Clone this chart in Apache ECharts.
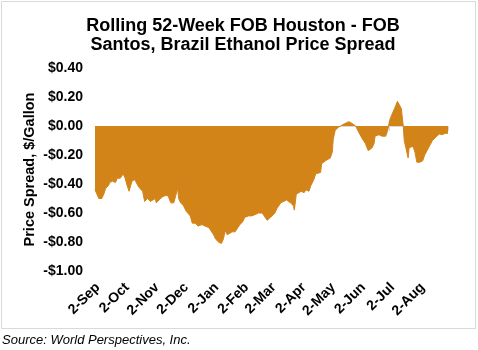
<!DOCTYPE html>
<html>
<head>
<meta charset="utf-8">
<script src="https://cdn.jsdelivr.net/npm/echarts@6/dist/echarts.min.js"></script>
<style>
html,body{margin:0;padding:0;background:#fff;}
#chart{width:478px;height:350px;}
</style>
</head>
<body>
<div id="chart"></div>
<script>
const titleText = 'Rolling 52-Week FOB Houston - FOB\nSantos, Brazil Ethanol Price Spread';
const yAxisName = 'Price Spread, $/Gallon';
const sourceText = 'Source: World Perspectives, Inc.';

const tickDates = ['2018-09-02','2018-10-02','2018-11-02','2018-12-02','2019-01-02','2019-02-02','2019-03-02','2019-04-02','2019-05-02','2019-06-02','2019-07-02','2019-08-02'];
const tickLabels = ['2-Sep','2-Oct','2-Nov','2-Dec','2-Jan','2-Feb','2-Mar','2-Apr','2-May','2-Jun','2-Jul','2-Aug'];
const xStart = '2018-09-02';
const xEnd = '2019-08-31';

const dates = [
 '2018-09-02','2018-09-04','2018-09-06','2018-09-09','2018-09-11','2018-09-13','2018-09-16','2018-09-17','2018-09-20','2018-09-23','2018-09-25','2018-09-28',
 '2018-10-01','2018-10-03','2018-10-05','2018-10-07','2018-10-10','2018-10-13','2018-10-16','2018-10-18','2018-10-21','2018-10-23','2018-10-26','2018-10-29','2018-10-31',
 '2018-11-03','2018-11-04','2018-11-07','2018-11-10','2018-11-13','2018-11-16','2018-11-19','2018-11-22','2018-11-24','2018-11-26','2018-11-27','2018-11-29',
 '2018-12-02','2018-12-05','2018-12-09','2018-12-11','2018-12-14','2018-12-17','2018-12-21','2018-12-24','2018-12-28','2018-12-30',
 '2019-01-02','2019-01-04','2019-01-07','2019-01-10','2019-01-12','2019-01-14','2019-01-16','2019-01-18','2019-01-21','2019-01-24','2019-01-27','2019-01-29',
 '2019-02-01','2019-02-03','2019-02-07','2019-02-10','2019-02-14','2019-02-17','2019-02-21','2019-02-23','2019-02-26','2019-02-28',
 '2019-03-03','2019-03-06','2019-03-08','2019-03-12','2019-03-15','2019-03-18','2019-03-22','2019-03-25','2019-03-26','2019-03-28','2019-03-30',
 '2019-04-02','2019-04-05','2019-04-07','2019-04-10','2019-04-12','2019-04-15','2019-04-17','2019-04-19','2019-04-22','2019-04-23','2019-04-27','2019-04-29',
 '2019-05-02','2019-05-04','2019-05-05','2019-05-07','2019-05-10','2019-05-12','2019-05-15','2019-05-17','2019-05-21','2019-05-23','2019-05-25','2019-05-28','2019-05-31',
 '2019-06-04','2019-06-07','2019-06-10','2019-06-12','2019-06-14','2019-06-16','2019-06-17','2019-06-21','2019-06-24','2019-06-28','2019-06-30',
 '2019-07-02','2019-07-05','2019-07-07','2019-07-10','2019-07-11','2019-07-14','2019-07-16','2019-07-17','2019-07-19','2019-07-21','2019-07-22','2019-07-26','2019-07-28','2019-07-30',
 '2019-08-02','2019-08-05','2019-08-07','2019-08-11','2019-08-15','2019-08-18','2019-08-22','2019-08-25','2019-08-28','2019-08-31'
];
const spread = [
 -0.44,-0.47,-0.50,-0.50,-0.47,-0.43,-0.41,-0.39,-0.38,-0.39,-0.36,-0.36,
 -0.33,-0.36,-0.41,-0.45,-0.38,-0.37,-0.41,-0.43,-0.45,-0.52,-0.50,-0.52,-0.53,
 -0.50,-0.53,-0.51,-0.49,-0.48,-0.48,-0.53,-0.53,-0.48,-0.43,-0.50,-0.53,
 -0.55,-0.59,-0.62,-0.67,-0.67,-0.69,-0.68,-0.69,-0.70,-0.72,
 -0.75,-0.78,-0.80,-0.81,-0.78,-0.72,-0.75,-0.74,-0.73,-0.73,-0.70,-0.68,
 -0.66,-0.63,-0.62,-0.62,-0.61,-0.60,-0.60,-0.61,-0.65,-0.65,
 -0.62,-0.60,-0.57,-0.53,-0.52,-0.51,-0.53,-0.55,-0.58,-0.47,-0.48,
 -0.45,-0.46,-0.44,-0.45,-0.41,-0.37,-0.33,-0.34,-0.32,-0.26,-0.24,-0.23,
 -0.22,-0.18,-0.09,-0.03,-0.01,0.00,0.01,0.02,0.03,0.02,0.015,0.00,-0.04,
 -0.09,-0.12,-0.17,-0.18,-0.15,-0.12,-0.07,-0.06,-0.07,-0.07,-0.03,
 0.04,0.09,0.12,0.17,0.16,0.12,0.00,-0.10,-0.16,-0.22,-0.15,-0.14,-0.18,-0.25,
 -0.25,-0.24,-0.20,-0.15,-0.10,-0.08,-0.055,-0.06,-0.05,-0.05
];

function ts(s){ const p = s.split('-').map(Number); return Date.UTC(p[0], p[1]-1, p[2]); }
const tickTs = tickDates.map(ts);
const seriesData = dates.map((d,i)=>[ts(d), spread[i]]);

const FONT = '"Liberation Sans", Arial, sans-serif';
const fill = '#D38418';

const chart = echarts.init(document.getElementById('chart'), null, {renderer:'canvas'});
chart.setOption({
  animation:false,
  backgroundColor:'#fff',
  title:{
    text:titleText,
    left:238, top:12, textAlign:'center',
    textStyle:{fontFamily:FONT, fontWeight:'bold', fontSize:18, lineHeight:19, color:'#000'}
  },
  grid:{left:95, right:30, top:68, bottom:79, containLabel:false},
  xAxis:[{
    type:'value', min:ts(xStart), max:ts(xEnd),
    position:'bottom',
    axisLine:{show:false, onZero:false},
    axisTick:{show:false},
    splitLine:{show:false},
    axisLabel:{
      customValues:tickTs, rotate:45, margin:17, padding:[0,-4,0,0],
      fontFamily:FONT, fontWeight:'bold', fontSize:14, color:'#000',
      formatter:(v)=>{ const i = tickTs.indexOf(v); return i>=0 ? tickLabels[i] : ''; }
    }
  },{
    type:'value', min:ts(xStart), max:ts(xEnd),
    position:'bottom',
    axisLine:{show:true, onZero:true, lineStyle:{color:'#D9D9D9', width:1}},
    axisTick:{show:true, customValues:tickTs.concat([ts(xEnd)]), length:5, lineStyle:{color:'#D9D9D9'}},
    axisLabel:{show:false},
    splitLine:{show:false}
  }],
  yAxis:{
    type:'value', min:-1, max:0.4, interval:0.2,
    name:yAxisName, nameLocation:'middle', nameGap:58, nameMoveOverlap:false,
    nameTextStyle:{fontFamily:FONT, fontWeight:'bold', fontSize:14.5, color:'#000'},
    axisLine:{show:false}, axisTick:{show:false}, splitLine:{show:false},
    axisLabel:{
      margin:12, fontFamily:FONT, fontWeight:'bold', fontSize:14, color:'#000',
      formatter:(v)=>{ const a = Math.abs(v).toFixed(2); return (v < -1e-9 ? '-$' : '$') + a; }
    }
  },
  series:[{
    type:'line', xAxisIndex:0, data:seriesData,
    showSymbol:false, symbol:'none', smooth:false,
    lineStyle:{color:fill, width:1},
    areaStyle:{color:fill, opacity:1},
    z:1
  }],
  graphic:[
    {type:'rect', shape:{x:1.5, y:1.5, width:474, height:327}, style:{fill:null, stroke:'#D9D9D9', lineWidth:1}, z:-1, silent:true},
    {type:'text', left:2, top:334, style:{text:sourceText, font:'italic 13px "Liberation Sans", Arial, sans-serif', fill:'#000'}}
  ]
});
</script>
</body>
</html>
